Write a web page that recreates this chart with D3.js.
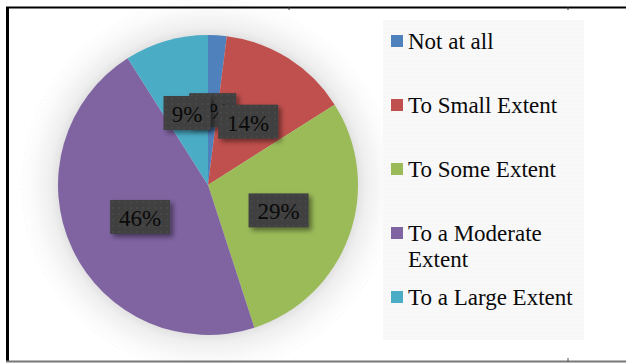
<!DOCTYPE html>
<html>
<head>
<meta charset="utf-8">
<script src="https://cdn.jsdelivr.net/npm/d3@7"></script>
<style>
html,body{margin:0;padding:0;background:#fff;}
svg{display:block;}
</style>
</head>
<body>
<svg id="chart" width="626" height="363"></svg>
<script>
const categories = ["Not at all", "To Small Extent", "To Some Extent", "To a Moderate Extent", "To a Large Extent"];
const legendLines = [["Not at all"], ["To Small Extent"], ["To Some Extent"], ["To a Moderate", "Extent"], ["To a Large Extent"]];
const values = [2, 14, 29, 46, 9];
const labels = ["2%", "14%", "29%", "46%", "9%"];
const colors = ["#4F81BD", "#C0504D", "#9BBB59", "#8064A2", "#4BACC6"];

const svg = d3.select("#chart");
const W = 626, H = 363;
const FONT = '"Liberation Serif"';

const defs = svg.append("defs");
const halo = defs.append("radialGradient").attr("id", "halo")
  .attr("gradientUnits", "userSpaceOnUse").attr("cx", 208).attr("cy", 185).attr("r", 188);
halo.append("stop").attr("offset", "0.78").attr("stop-color", "#dddddd");
halo.append("stop").attr("offset", "0.84").attr("stop-color", "#efefef");
halo.append("stop").attr("offset", "0.93").attr("stop-color", "#fafafa");
halo.append("stop").attr("offset", "1").attr("stop-color", "#ffffff");

const pat = defs.append("pattern").attr("id", "dots").attr("width", 6).attr("height", 6).attr("patternUnits", "userSpaceOnUse");
pat.append("rect").attr("width", 6).attr("height", 6).attr("fill", "#404040");
pat.append("circle").attr("cx", 3).attr("cy", 3).attr("r", 1).attr("fill", "#4a4a4a");

const lp = defs.append("pattern").attr("id", "ldots").attr("width", 4).attr("height", 4).attr("patternUnits", "userSpaceOnUse");
lp.append("rect").attr("width", 4).attr("height", 4).attr("fill", "#f8f8f8");
lp.append("rect").attr("width", 1).attr("height", 1).attr("fill", "#f2f2f2");

const sh = defs.append("filter").attr("id", "shadow").attr("x", "-30%").attr("y", "-30%").attr("width", "160%").attr("height", "160%");
sh.append("feDropShadow").attr("dx", 3).attr("dy", 3).attr("stdDeviation", 2.5).attr("flood-color", "#000").attr("flood-opacity", 0.45);

svg.append("rect").attr("x", 0).attr("y", 0).attr("width", W).attr("height", H).attr("fill", "#fff");

const cx = 208, cy = 185, R = 150;
svg.append("circle").attr("cx", cx).attr("cy", cy).attr("r", 188).attr("fill", "url(#halo)");
svg.append("circle").attr("cx", cx).attr("cy", cy).attr("r", 186).attr("fill", "none")
  .attr("stroke", "#eeeeee").attr("stroke-width", 0.8).attr("stroke-dasharray", "1,3");

const pie = d3.pie().sort(null).value(d => d)(values);
const arc = d3.arc().innerRadius(0).outerRadius(R);
const labArc = d3.arc().innerRadius(R / 2).outerRadius(R / 2);

const g = svg.append("g").attr("transform", `translate(${cx},${cy})`);
g.selectAll("path.slice").data(pie).enter().append("path")
  .attr("class", "slice").attr("d", arc).attr("fill", (d, i) => colors[i]);

const lg = g.selectAll("g.lab").data(pie).enter().append("g")
  .attr("class", "lab")
  .attr("transform", d => { const c = labArc.centroid(d); return `translate(${c[0]},${c[1]})`; });
lg.each(function(d, i) {
  const sel = d3.select(this);
  const w = labels[i].length === 2 ? 47 : 60;
  sel.append("rect").attr("x", -w / 2).attr("y", -17).attr("width", w).attr("height", 34)
    .attr("fill", "url(#dots)").attr("filter", "url(#shadow)");
  sel.append("text").attr("x", 0).attr("y", 9).attr("text-anchor", "middle")
    .style("font-family", FONT).style("font-size", "23px").attr("fill", "#0a0a0a").text(labels[i]);
});

svg.append("rect").attr("x", 383).attr("y", 20).attr("width", 201).attr("height", 320).attr("fill", "url(#ldots)");
const baselines = [49, 113, 177, 241, 305];
const leg = svg.selectAll("g.leg").data(categories).enter().append("g").attr("class", "leg");
leg.append("rect").attr("x", 391).attr("y", (d, i) => baselines[i] - 14).attr("width", 12).attr("height", 12)
  .attr("fill", (d, i) => colors[i]);
leg.append("text").style("font-family", FONT).style("font-size", "23px").attr("fill", "#0a0a0a")
  .each(function(d, i) {
    const t = d3.select(this);
    legendLines[i].forEach((ln, j) => {
      t.append("tspan").attr("x", 408).attr("y", baselines[i] + j * 26).text(ln);
    });
  });

svg.append("line").attr("x1", 6).attr("x2", W).attr("y1", 7.5).attr("y2", 7.5).attr("stroke", "#000").attr("stroke-width", 2);
svg.append("line").attr("x1", 7.5).attr("x2", 7.5).attr("y1", 7).attr("y2", 362).attr("stroke", "#000").attr("stroke-width", 3);
svg.append("line").attr("x1", 6).attr("x2", W).attr("y1", 361.5).attr("y2", 361.5).attr("stroke", "#777").attr("stroke-width", 2);
[289, 568].forEach(x => {
  svg.append("line").attr("x1", x).attr("x2", x).attr("y1", 7).attr("y2", 10).attr("stroke", "#333").attr("stroke-width", 1);
});
svg.append("line").attr("x1", 568).attr("x2", 568).attr("y1", 358).attr("y2", 362).attr("stroke", "#555").attr("stroke-width", 1);
</script>
</body>
</html>
